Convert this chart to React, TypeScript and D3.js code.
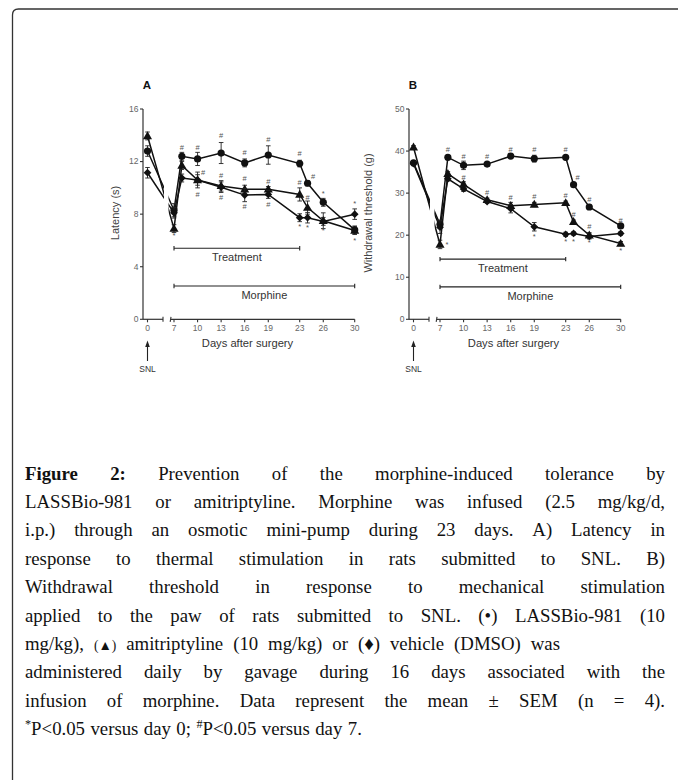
import React, { useEffect, useRef } from "react";
import * as d3 from "d3";

// days at which measurements were taken
const days = [0, 7, 8, 10, 13, 16, 19, 23, 24, 26, 30];
const xTickDays = [0, 7, 10, 13, 16, 19, 23, 26, 30];

// Panel A - latency (s)
const latencyTicks = [0, 4, 8, 12, 16];
const latencyLassbio = [12.8, 8.3, 12.4, 12.2, 12.65, 11.9, 12.5, 11.85, 10.35, 8.9, 6.8];
const latencyLassbioErr = [0.4, 0.5, 0.3, 0.5, 0.8, 0.3, 0.7, 0.25, 0.2, 0.3, 0.3];
const latencyAmitrip = [13.95, 6.9, 11.7, 10.6, 10.15, 9.9, 9.9, 9.5, 8.5, 7.5, 6.75];
const latencyAmitripErr = [0.3, 0.3, 0.3, 0.6, 0.4, 0.3, 0.2, 0.5, 0.5, 0.6, 0.3];
const latencyVehicle = [11.15, 8.1, 10.75, 10.6, 10.05, 9.45, 9.5, 7.73, 7.73, 7.45, 8.0];
const latencyVehicleErr = [0.4, 0.4, 0.3, 0.4, 0.4, 0.5, 0.3, 0.3, 0.4, 0.3, 0.4];
// significance marks: [day, value, symbol]
const latencyMarks: [number, number, string][] = [
  [8, 13.1, "#"], [10, 13.1, "#"], [13, 14.0, "#"], [16, 12.7, "#"], [19, 13.7, "#"], [23, 12.6, "#"],
  [24.7, 10.9, "#"], [26, 9.6, "*"], [30, 8.8, "*"], [30, 6.0, "*"],
  [10.7, 11.2, "#"], [10, 9.5, "#"], [13, 10.95, "#"], [13, 9.3, "#"], [16, 10.7, "#"], [16, 8.6, "#"],
  [19, 10.5, "#"], [19, 8.75, "#"], [23, 10.45, "#"], [23, 7.05, "*"], [24, 9.3, "#"], [24, 7.0, "*"],
  [26, 6.8, "*"], [7, 6.4, "*"],
];

// Panel B - withdrawal threshold (g)
const thresholdTicks = [0, 10, 20, 30, 40, 50];
const thresholdLassbio = [37.2, 22.6, 38.5, 36.6, 36.9, 38.8, 38.2, 38.5, 32.0, 26.7, 22.2];
const thresholdLassbioErr = [0.5, 1.0, 0.4, 1.0, 0.4, 0.4, 0.8, 0.4, 0.4, 0.6, 0.4];
const thresholdAmitrip = [40.9, 17.8, 34.6, 32.1, 28.4, 27.0, 27.3, 27.7, 23.2, 20.0, 18.0];
const thresholdAmitripErr = [0.4, 1.0, 0.5, 0.6, 0.4, 0.8, 0.5, 0.4, 0.4, 0.6, 0.5];
const thresholdVehicle = [37.0, 21.9, 33.4, 31.0, 28.0, 26.3, 22.0, 20.2, 20.4, 19.7, 20.4];
const thresholdVehicleErr = [0.5, 1.5, 0.5, 0.6, 0.4, 1.0, 1.0, 0.5, 0.4, 0.6, 0.4];
const thresholdMarks: [number, number, string][] = [
  [8, 40.4, "#"], [10, 38.8, "#"], [13, 38.8, "#"], [16, 40.5, "#"], [19, 40.5, "#"], [23, 40.3, "#"],
  [24.5, 33.8, "#"], [26, 28.5, "#"], [30, 23.5, "#"],
  [10, 33.8, "#"], [13, 30.2, "#"], [16, 29.0, "#"], [19, 29.3, "#"], [23, 29.4, "#"], [24, 25.0, "#"], [26, 22.0, "#"],
  [7.9, 17.9, "*"], [19, 19.6, "*"], [23, 18.5, "*"], [24, 18.6, "*"], [26, 18.3, "*"], [30, 16.5, "*"],
];

const captionLines = [
  "!Figure !2: Prevention of the morphine-induced tolerance by",
  "LASSBio-981 or amitriptyline. Morphine was infused (2.5 mg/kg/d,",
  "i.p.) through an osmotic mini-pump during 23 days. A) Latency in",
  "response to thermal stimulation in rats submitted to SNL. B)",
  "Withdrawal threshold in response to mechanical stimulation",
  "applied to the paw of rats submitted to SNL. (•) LASSBio-981 (10",
  "mg/kg), ~(▲) amitriptyline (10 mg/kg) or (♦) vehicle (DMSO) was",
  "administered daily by gavage during 16 days associated with the",
  "infusion of morphine. Data represent the mean ± SEM (n = 4).",
  "^*P<0.05 versus day 0; ^#P<0.05 versus day 7.",
];
// right edge each line is spread to (0 = natural spacing)
const captionRight = [665, 665, 665, 665, 665, 665, 560, 665, 665, 0];

const SANS = "Arial, 'Liberation Sans', Helvetica, sans-serif";
const SERIF = "'Liberation Serif', 'DejaVu Serif', serif";
const CAP_SIZE = 18.8;

type Shape = "circle" | "triangle" | "diamond";
type Series = { shape: Shape; values: number[]; err: number[] };

const Y0 = 319.3;
const YTOP = 109;

function Marker({ shape, cx, cy }: { shape: Shape; cx: number; cy: number }) {
  if (shape === "circle") return <circle cx={cx} cy={cy} r={3.6} fill="#111" />;
  if (shape === "triangle") {
    const p = d3.symbol().type(d3.symbolTriangle).size(36)();
    return <path d={p || ""} transform={`translate(${cx},${cy + 0.6})`} fill="#111" />;
  }
  const p = d3.symbol().type(d3.symbolSquare).size(30)();
  return <path d={p || ""} transform={`translate(${cx},${cy}) rotate(45)`} fill="#111" />;
}

function Panel(props: {
  id: string;
  left: number;
  letter: string;
  yMax: number;
  yTicks: number[];
  yLabel: string;
  yLabelX: number;
  series: Series[];
  marks: [number, number, string][];
  treatY: number;
  morphY: number;
}) {
  const { id, left, letter, yMax, yTicks, yLabel, yLabelX, series, marks, treatY, morphY } = props;
  const x = d3.scaleLinear().domain([0, 7, 30]).range([left + 4.5, left + 31, left + 211.7]);
  const y = d3.scaleLinear().domain([0, yMax]).range([Y0, YTOP]);
  const line = d3
    .line<number>()
    .x((_, i) => x(days[i]))
    .y((d) => y(d));
  const brk1 = left + 20;
  const brk2 = left + 28;
  const x30 = x(30);

  const bracket = (d1: number, d2: number, v: number, label: string) => {
    const yy = y(v);
    return (
      <g>
        <line x1={x(d1)} x2={x(d2)} y1={yy} y2={yy} stroke="#222" strokeWidth={1.1} />
        <line x1={x(d1)} x2={x(d1)} y1={yy - 2.2} y2={yy + 2.2} stroke="#222" strokeWidth={1.1} />
        <line x1={x(d2)} x2={x(d2)} y1={yy - 2.2} y2={yy + 2.2} stroke="#222" strokeWidth={1.1} />
        <text x={(x(d1) + x(d2)) / 2} y={yy + 13} textAnchor="middle" fontSize={11} fill="#333" fontFamily={SANS}>
          {label}
        </text>
      </g>
    );
  };

  return (
    <g>
      <defs>
        <clipPath id={`clip-${id}`}>
          <rect x={left - 10} y={90} width={31} height={250} />
          <rect x={left + 25.5} y={90} width={220} height={250} />
        </clipPath>
      </defs>
      <text x={left + 4} y={89} textAnchor="middle" fontSize={11.5} fontWeight="bold" fontFamily={SANS} fill="#111">
        {letter}
      </text>

      {/* y axis */}
      <line x1={left} x2={left} y1={Y0} y2={YTOP} stroke="#333" strokeWidth={1.2} />
      {yTicks.map((t) => (
        <g key={t}>
          <line x1={left - 3} x2={left} y1={y(t)} y2={y(t)} stroke="#333" strokeWidth={1.1} />
          <text x={left - 4.5} y={y(t)} dy="0.33em" textAnchor="end" fontSize={8.5} fill="#666" fontFamily={SANS}>
            {t}
          </text>
        </g>
      ))}
      <text
        transform={`translate(${yLabelX},213) rotate(-90)`}
        textAnchor="middle"
        dy="0.35em"
        fontSize={11}
        fill="#444"
        fontFamily={SANS}
      >
        {yLabel}
      </text>

      {/* broken x axis */}
      <line x1={left} x2={brk1} y1={Y0} y2={Y0} stroke="#333" strokeWidth={1.2} />
      <line x1={brk1} x2={brk1} y1={Y0 - 2.5} y2={Y0 + 2.5} stroke="#333" strokeWidth={1.1} />
      <line x1={brk2} x2={x30} y1={Y0} y2={Y0} stroke="#333" strokeWidth={1.2} />
      <line x1={brk2} x2={brk2 - 0.8} y1={Y0 - 2.5} y2={Y0 + 2.5} stroke="#333" strokeWidth={1.1} />
      {xTickDays.map((d) => (
        <g key={d}>
          <line x1={x(d)} x2={x(d)} y1={Y0} y2={Y0 + 3} stroke="#333" strokeWidth={1.1} />
          <text x={x(d)} y={Y0 + 12} textAnchor="middle" fontSize={8.5} fill="#666" fontFamily={SANS}>
            {d}
          </text>
        </g>
      ))}
      <text x={left + 104.5} y={346.5} textAnchor="middle" fontSize={11.2} fill="#333" fontFamily={SANS}>
        Days after surgery
      </text>

      {/* SNL arrow */}
      <line x1={x(0)} x2={x(0)} y1={345} y2={361} stroke="#222" strokeWidth={1.1} />
      <path d={`M${x(0)},340.5 L${x(0) - 2.3},347 L${x(0) + 2.3},347 Z`} fill="#222" />
      <text x={x(0)} y={371.5} textAnchor="middle" fontSize={8.5} fill="#333" fontFamily={SANS}>
        SNL
      </text>

      {bracket(7, 23, treatY, "Treatment")}
      {bracket(7, 30, morphY, "Morphine")}

      {/* data */}
      <g clipPath={`url(#clip-${id})`}>
        {series.map((s, k) => (
          <path key={k} d={line(s.values) || ""} fill="none" stroke="#111" strokeWidth={1.5} />
        ))}
      </g>
      {series.map((s, k) => (
        <g key={k}>
          {s.values.map((v, i) => (
            <g key={i} stroke="#222" strokeWidth={0.9}>
              <line x1={x(days[i])} x2={x(days[i])} y1={y(v - s.err[i])} y2={y(v + s.err[i])} />
              <line x1={x(days[i]) - 2.3} x2={x(days[i]) + 2.3} y1={y(v + s.err[i])} y2={y(v + s.err[i])} />
              <line x1={x(days[i]) - 2.3} x2={x(days[i]) + 2.3} y1={y(v - s.err[i])} y2={y(v - s.err[i])} />
            </g>
          ))}
          {s.values.map((v, i) => (
            <Marker key={i} shape={s.shape} cx={x(days[i])} cy={y(v)} />
          ))}
        </g>
      ))}
      {marks.map(([d, v, m], i) => (
        <text key={i} x={x(d)} y={y(v)} dy="0.35em" textAnchor="middle" fontSize={7.5} fill="#555" fontFamily={SANS}>
          {m}
        </text>
      ))}
    </g>
  );
}

type Run = { t: string; bold?: boolean; sup?: boolean; small?: boolean };

function runsOf(word: string): Run[] {
  if (word.startsWith("!")) return [{ t: word.slice(1), bold: true }];
  if (word.startsWith("~")) return [{ t: word.slice(1), small: true }];
  if (word.startsWith("^")) return [{ t: word[1], sup: true }, { t: word.slice(2) }];
  return [{ t: word }];
}

export default function App() {
  const capRef = useRef<SVGGElement>(null);

  useEffect(() => {
    const g = d3.select(capRef.current);
    g.selectAll("*").remove();
    const left = 25;
    const addRuns = (sel: any, runs: Run[], xPos?: number) => {
      runs.forEach((r, j) => {
        const ts = sel.append("tspan").text(r.t);
        if (j === 0 && xPos !== undefined) ts.attr("x", xPos);
        if (r.bold) ts.attr("font-weight", "bold");
        if (r.small) ts.attr("font-size", CAP_SIZE * 0.72);
        if (r.sup) ts.attr("font-size", CAP_SIZE * 0.65).attr("dy", -7);
        if (j > 0 && runs[j - 1].sup) ts.attr("dy", 7);
      });
    };
    const meas = g
      .append("text")
      .attr("font-family", SERIF)
      .attr("font-size", CAP_SIZE)
      .attr("visibility", "hidden")
      .attr("xml:space", "preserve");
    const widthOf = (runs: Run[]) => {
      meas.selectAll("*").remove();
      addRuns(meas, runs);
      return (meas.node() as SVGTextElement).getComputedTextLength();
    };
    const spaceW = widthOf([{ t: "n n" }]) - widthOf([{ t: "nn" }]);

    captionLines.forEach((ln, li) => {
      const words = ln.split(" ").map(runsOf);
      const widths = words.map(widthOf);
      const total = d3.sum(widths);
      const right = captionRight[li];
      const gap = right ? (right - left - total) / (words.length - 1) : spaceW * 1.15;
      const t = g
        .append("text")
        .attr("y", 479.5 + li * 28.4)
        .attr("font-family", SERIF)
        .attr("font-size", CAP_SIZE)
        .attr("fill", "#111");
      let cx = left;
      words.forEach((w, wi) => {
        addRuns(t, w, cx);
        cx += widths[wi] + gap;
      });
    });
    meas.remove();
  }, []);

  const seriesA: Series[] = [
    { shape: "circle", values: latencyLassbio, err: latencyLassbioErr },
    { shape: "triangle", values: latencyAmitrip, err: latencyAmitripErr },
    { shape: "diamond", values: latencyVehicle, err: latencyVehicleErr },
  ];
  const seriesB: Series[] = [
    { shape: "circle", values: thresholdLassbio, err: thresholdLassbioErr },
    { shape: "triangle", values: thresholdAmitrip, err: thresholdAmitripErr },
    { shape: "diamond", values: thresholdVehicle, err: thresholdVehicleErr },
  ];

  return (
    <svg
      width={678}
      height={780}
      style={{ position: "absolute", left: 0, top: 0, display: "block", background: "#fff" }}
    >
      <rect width={678} height={780} fill="#fff" />
      <path d="M12.5,780 V15 Q12.5,9 18.5,9 H678" fill="none" stroke="#333" strokeWidth={1.3} />
      <Panel
        id="a"
        left={143}
        letter="A"
        yMax={16}
        yTicks={latencyTicks}
        yLabel="Latency (s)"
        yLabelX={115}
        series={seriesA}
        marks={latencyMarks}
        treatY={5.4}
        morphY={2.53}
      />
      <Panel
        id="b"
        left={409}
        letter="B"
        yMax={50}
        yTicks={thresholdTicks}
        yLabel="Withdrawal threshold (g)"
        yLabelX={368.5}
        series={seriesB}
        marks={thresholdMarks}
        treatY={14.3}
        morphY={7.7}
      />
      <g ref={capRef} />
    </svg>
  );
}
